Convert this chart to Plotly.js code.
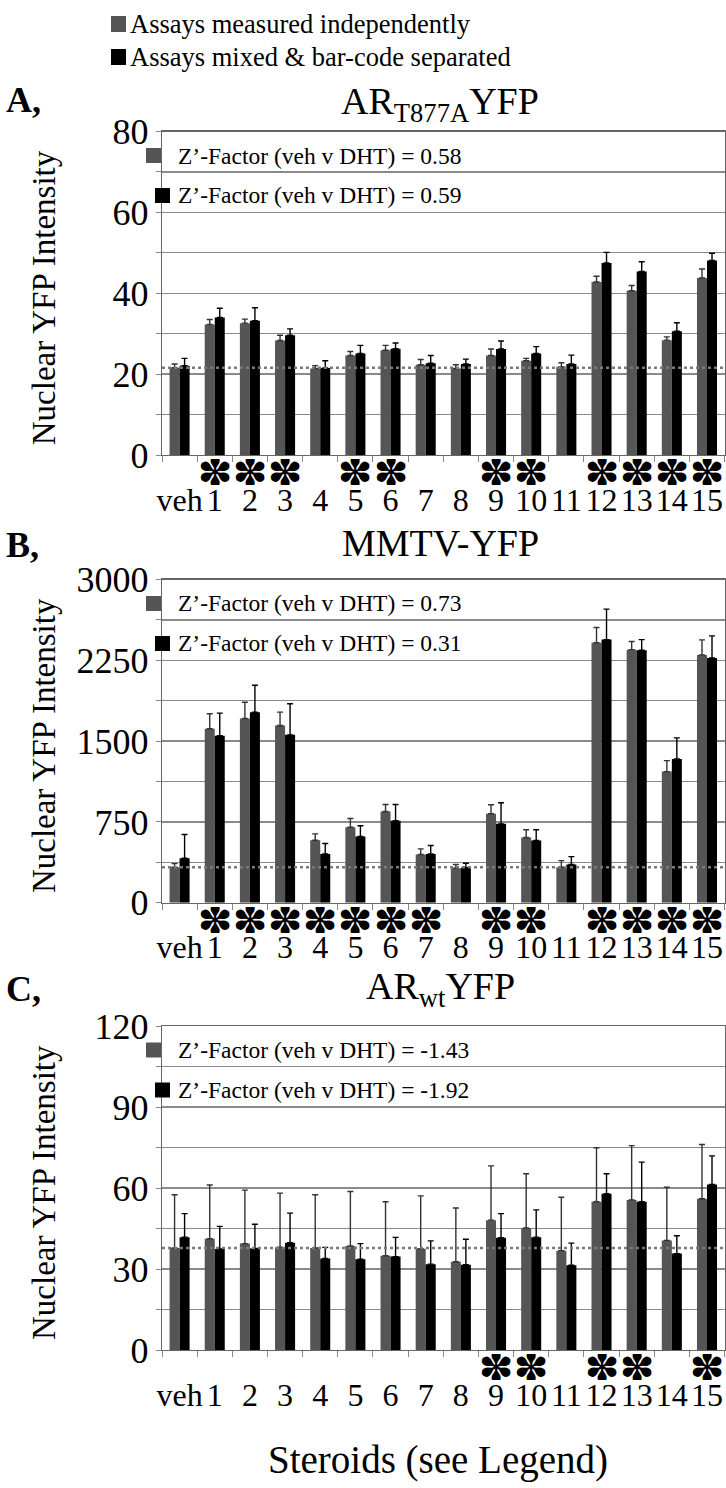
<!DOCTYPE html>
<html><head><meta charset="utf-8">
<script src="https://cdn.plot.ly/plotly-3.0.1.min.js"></script>
<style>html,body{margin:0;padding:0;background:#fff}#chart{width:726px;height:1488px}</style>
</head><body><div id="chart"></div>
<script>
// ---------- data ----------
const categories = ['veh','1','2','3','4','5','6','7','8','9','10','11','12','13','14','15'];
const seriesNames = ['Assays measured independently','Assays mixed & bar-code separated'];

// Panel A: AR(T877A)YFP
const A_indep    = [21.6,32.3,32.6,28.3,21.4,24.6,25.9,22.3,21.4,24.6,23.3,21.8,42.8,40.6,28.4,43.8];
const A_indepErr = [0.9,1.2,1.0,1.3,0.7,1.0,1.2,1.3,0.9,1.6,0.6,1.0,1.4,1.3,0.8,2.2];
const A_mixed    = [22.1,34.0,33.2,29.6,21.5,25.1,26.3,22.7,22.5,26.2,25.1,22.5,47.5,45.4,30.6,48.1];
const A_mixedErr = [1.8,2.3,3.2,1.6,1.8,2.0,1.4,1.9,1.2,2.0,1.7,2.2,2.6,2.4,2.1,1.8];
const A_sig      = ['1','2','3','5','6','9','10','12','13','14','15'];
const A_zprime   = ['0.58','0.59'];

// Panel B: MMTV-YFP
const B_indep    = [329,1614,1710,1645,580,701,847,447,320,826,605,329,2414,2349,1217,2300];
const B_indepErr = [34,140,151,124,59,81,65,53,34,83,72,62,140,75,102,140];
const B_mixed    = [413,1549,1768,1558,453,615,760,453,326,732,577,354,2442,2343,1335,2272];
const B_mixedErr = [220,211,251,289,96,99,152,78,40,196,100,74,283,99,195,205];
const B_sig      = ['1','2','3','4','5','6','7','9','10','12','13','14','15'];
const B_zprime   = ['0.73','0.31'];

// Panel C: AR(wt)YFP
const C_indep    = [37.8,41.2,39.4,38.1,37.8,38.5,34.9,37.5,32.7,48.1,45.2,36.8,54.9,55.6,40.6,56.0];
const C_indepErr = [19.7,19.9,19.8,20.0,19.7,20.2,20.0,19.6,19.9,20.1,20.1,19.8,20.0,20.1,19.7,20.1];
const C_mixed    = [41.8,37.4,37.6,39.7,33.9,33.6,34.6,31.8,31.6,41.6,41.8,31.4,57.9,54.9,35.7,61.3];
const C_mixedErr = [8.7,8.4,9.0,11.0,4.1,5.8,7.1,8.6,9.4,8.9,10.1,8.2,7.4,14.7,6.6,10.6];
const C_sig      = ['9','10','12','13','15'];
const C_zprime   = ['-1.43','-1.92'];

const panelTitles = ['AR<sub>T877A</sub>YFP','MMTV-YFP','AR<sub>wt</sub>YFP'];
const panelLetters = ['A,','B,','C,'];
const yRanges = [[0,80],[0,3000],[0,120]];
const yDticks = [20,750,30];
const yTitle = 'Nuclear YFP Intensity';
const xTitle = 'Steroids (see Legend)';

// ---------- layout helpers ----------
const W = 726, H = 1488;
const FONT = 'Liberation Serif';
const GRAY = '#555555', BLACK = '#000000';
const px = v => v / W;
const py = v => 1 - v / H;
const plotLeft = 162, plotRight = 725;
const panelPix = [[131.5,455],[579.5,902.7],[1026,1350]];
const titleY = [104,543,989];
const letterY = [100,545,989];

const panels = [
  {indep:A_indep, indepErr:A_indepErr, mixed:A_mixed, mixedErr:A_mixedErr, sig:A_sig, z:A_zprime},
  {indep:B_indep, indepErr:B_indepErr, mixed:B_mixed, mixedErr:B_mixedErr, sig:B_sig, z:B_zprime},
  {indep:C_indep, indepErr:C_indepErr, mixed:C_mixed, mixedErr:C_mixedErr, sig:C_sig, z:C_zprime}
];

const traces = [];
const annotations = [];
const shapes = [];
const layout = {
  width: W, height: H,
  margin: {l:0, r:0, t:0, b:0},
  paper_bgcolor: '#fff', plot_bgcolor: '#fff',
  font: {family: FONT, color: '#000'},
  showlegend: false,
  barmode: 'group', bargap: 0.43, bargroupgap: 0,
  annotations: annotations, shapes: shapes
};

panels.forEach((p, i) => {
  const n = i === 0 ? '' : String(i + 1);
  const xa = 'x' + n, ya = 'y' + n;
  const zeros = p.indep.map(() => 0);
  traces.push({
    type: 'bar', x: categories, y: p.indep, name: seriesNames[0], xaxis: xa, yaxis: ya,
    marker: {color: GRAY, line: {width: 0}},
    error_y: {type: 'data', array: p.indepErr, arrayminus: zeros, symmetric: false, color: '#333', thickness: 1.4, width: 3}
  });
  traces.push({
    type: 'bar', x: categories, y: p.mixed, name: seriesNames[1], xaxis: xa, yaxis: ya,
    marker: {color: BLACK, line: {width: 0}},
    error_y: {type: 'data', array: p.mixedErr, arrayminus: zeros, symmetric: false, color: '#000', thickness: 1.4, width: 3}
  });
  const [top, bot] = panelPix[i];
  layout['xaxis' + n] = {
    domain: [px(plotLeft), px(plotRight)], anchor: ya, type: 'category',
    categoryorder: 'array', categoryarray: categories,
    tickmode: 'linear', tick0: 0, dtick: 1, tickangle: 0,
    showgrid: false, showline: true, mirror: true, linecolor: '#666', linewidth: 1.3,
    ticks: 'outside', ticklen: 6, tickcolor: '#888', tickson: 'boundaries',
    ticklabelstandoff: 16,
    tickfont: {family: FONT, size: 32, color: '#000'}, fixedrange: true
  };
  layout['yaxis' + n] = {
    domain: [py(bot), py(top)], anchor: xa, range: yRanges[i], dtick: yDticks[i], tick0: 0,
    showgrid: true, gridcolor: '#8a8a8a', gridwidth: 1.3,
    minor: {dtick: yDticks[i] / 2, showgrid: true, gridcolor: '#8a8a8a', gridwidth: 1.3, ticks: 'outside', ticklen: 5, tickcolor: '#888'},
    showline: true, mirror: true, linecolor: '#666', linewidth: 1.3,
    ticks: 'outside', ticklen: 5, tickcolor: '#888',
    tickfont: {family: FONT, size: 36, color: '#000'}, zeroline: false, fixedrange: true
  };
  // dotted vehicle baseline
  shapes.push({type: 'line', xref: xa + ' domain', yref: ya, x0: 0, x1: 1, y0: p.indep[0], y1: p.indep[0],
    line: {color: '#7a7a7a', width: 2.5, dash: 'dot'}});
  // significance asterisks
  p.sig.forEach(c => annotations.push({xref: xa, yref: 'paper', x: c, y: py(bot + 17), text: '✽',
    showarrow: false, font: {family: 'DejaVu Sans', size: 42, color: '#000'},
    width: 32, height: 26, valign: 'middle', xanchor: 'center', yanchor: 'middle'}));
  // panel title and letter
  annotations.push({xref: 'paper', yref: 'paper', x: px(440), y: py(titleY[i]), text: panelTitles[i], showarrow: false,
    font: {family: FONT, size: 38}, xanchor: 'center', yanchor: 'middle'});
  annotations.push({xref: 'paper', yref: 'paper', x: px(4), y: py(letterY[i]), text: '<b>' + panelLetters[i] + '</b>', showarrow: false,
    font: {family: FONT, size: 36}, xanchor: 'left', yanchor: 'middle'});
  // y title
  annotations.push({xref: 'paper', yref: 'paper', x: px(44), y: py((top + bot) / 2 + 5), text: yTitle, textangle: -90, showarrow: false,
    font: {family: FONT, size: 33}, xanchor: 'center', yanchor: 'middle'});
  // Z' factor key
  const sqX = [[146,161],[155,170]];
  [0,1].forEach(r => {
    const cy = top + 24 + r * 40;
    shapes.push({type: 'rect', xref: 'paper', yref: 'paper', x0: px(sqX[r][0]), x1: px(sqX[r][1]), y0: py(cy + 7.5), y1: py(cy - 7.5),
      fillcolor: r === 0 ? GRAY : BLACK, line: {width: 0}});
    annotations.push({xref: 'paper', yref: 'paper', x: px(176), y: py(cy), text: 'Z’-Factor (veh v DHT) = ' + p.z[r], showarrow: false,
      font: {family: FONT, size: 23.5}, xanchor: 'left', yanchor: 'middle'});
  });
});

// top legend
[0,1].forEach(r => {
  const cy = 24 + r * 33;
  shapes.push({type: 'rect', xref: 'paper', yref: 'paper', x0: px(111), x1: px(126), y0: py(cy + 8), y1: py(cy - 8),
    fillcolor: r === 0 ? GRAY : BLACK, line: {width: 0}});
  annotations.push({xref: 'paper', yref: 'paper', x: px(128), y: py(cy), text: seriesNames[r], showarrow: false,
    font: {family: FONT, size: 26.5}, xanchor: 'left', yanchor: 'middle'});
});
// x title
annotations.push({xref: 'paper', yref: 'paper', x: px(438), y: py(1460), text: xTitle, showarrow: false,
  font: {family: FONT, size: 39}, xanchor: 'center', yanchor: 'middle'});

Plotly.newPlot('chart', traces, layout, {staticPlot: true, displayModeBar: false});
</script></body></html>
